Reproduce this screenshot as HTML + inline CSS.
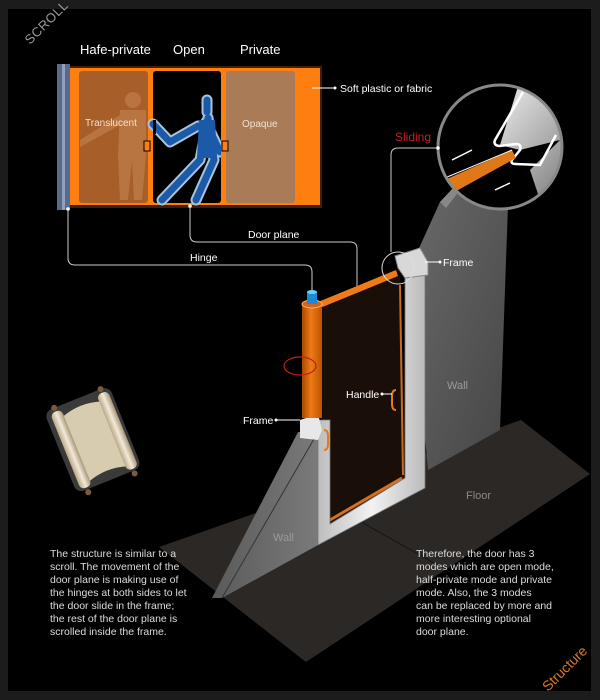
<!DOCTYPE html>
<html><head><meta charset="utf-8"><style>
html,body{margin:0;padding:0;background:#1c1c1c;}
svg{display:block}
text{font-family:"Liberation Sans",sans-serif;}
</style></head><body>
<svg width="600" height="700" viewBox="0 0 600 700" xmlns="http://www.w3.org/2000/svg">
<defs>
<linearGradient id="wallR" x1="0" y1="0" x2="1" y2="1"><stop offset="0" stop-color="#6a6a6a"/><stop offset="1" stop-color="#454545"/></linearGradient>
<linearGradient id="wallL" x1="0" y1="0" x2="1" y2="0"><stop offset="0" stop-color="#5a5a5a"/><stop offset="1" stop-color="#7a7a7a"/></linearGradient>
<linearGradient id="cyl" x1="0" y1="0" x2="1" y2="0"><stop offset="0" stop-color="#a84800"/><stop offset="0.45" stop-color="#f07a18"/><stop offset="1" stop-color="#b85400"/></linearGradient>
<linearGradient id="frm" x1="0" y1="0" x2="1" y2="0"><stop offset="0" stop-color="#bdbdbd"/><stop offset="0.5" stop-color="#f2f2f2"/><stop offset="1" stop-color="#bbb"/></linearGradient>
<linearGradient id="mag" x1="0" y1="0" x2="1" y2="1"><stop offset="0" stop-color="#eee"/><stop offset="1" stop-color="#666"/></linearGradient>
<linearGradient id="roll" x1="0" y1="0" x2="1" y2="0"><stop offset="0" stop-color="#b8a888"/><stop offset="0.5" stop-color="#f2ead8"/><stop offset="1" stop-color="#a89878"/></linearGradient>
<clipPath id="mc"><circle cx="500" cy="147" r="62"/></clipPath>
</defs>
<rect x="0" y="0" width="600" height="700" fill="#1c1c1c"/>
<rect x="8" y="9" width="583" height="682" fill="#000"/>

<text x="30" y="45" fill="#9a9a9a" font-size="13" transform="rotate(-45 30 45)" style="letter-spacing:0.5px">SCROLL</text>
<text x="548" y="692" fill="#e0762a" font-size="14" transform="rotate(-45 548 692)">Structure</text>

<!-- top panel -->
<text x="80" y="54" fill="#fff" font-size="13">Hafe-private</text>
<text x="173" y="54" fill="#fff" font-size="13">Open</text>
<text x="240" y="54" fill="#fff" font-size="13">Private</text>
<rect x="60" y="66" width="262" height="142" fill="#ff7a10" opacity="0.25"/>
<rect x="64" y="68" width="256" height="137" fill="#ff7e10"/>
<rect x="79" y="71" width="69" height="132" rx="3" fill="#a85e28"/>
<g opacity="0.35" fill="#d8a070"><circle cx="133" cy="100" r="8"/><path d="M120 110 h26 v45 l-4 45 h-8 l-2-40 l-4 40 h-8 l-2-45 z"/><path d="M80 140 l40-25 v10 l-40 22z"/></g>
<rect x="153" y="71" width="68" height="132" rx="3" fill="#000"/>
<g stroke-linecap="round" stroke-linejoin="round" fill="none">
<g stroke="#a8c4dc" stroke-width="11">
<path d="M207 100 V112"/><path d="M153 124 L170 142 L198 126"/><path d="M208 118 L200 160 L162 200"/><path d="M208 118 L214 160 L196 200"/><path d="M206 122 L220 152"/>
</g>
<g stroke="#1a5aa8" stroke-width="7">
<path d="M207 100 V112"/><path d="M153 124 L170 142 L198 126"/><path d="M208 118 L200 160 L162 200"/><path d="M208 118 L214 160 L196 200"/><path d="M206 122 L220 152"/>
</g>
</g>
<path d="M199 120 h16 l2 38 h-20z" fill="#1a5aa8"/>
<rect x="153" y="120" width="3" height="14" fill="#000"/>
<rect x="221" y="71" width="5" height="132" fill="#ff7e10"/>
<rect x="226" y="71" width="69" height="132" rx="3" fill="#a97b57"/>
<rect x="144" y="141" width="6" height="10" fill="#ff7e10" stroke="#000"/>
<rect x="222" y="141" width="6" height="10" fill="#ff7e10" stroke="#000"/>
<rect x="57" y="64" width="13" height="146" fill="#5a6a8a"/>
<rect x="62" y="64" width="3" height="146" fill="#8fa0c0"/>
<text x="85" y="126" fill="#f3e0d0" font-size="10">Translucent</text>
<text x="242" y="127" fill="#f3e0d0" font-size="10">Opaque</text>
<line x1="312" y1="88" x2="334" y2="88" stroke="#fff"/><circle cx="335" cy="88" r="1.5" fill="#fff"/>
<text x="340" y="92" fill="#fff" font-size="10.5">Soft plastic or fabric</text>

<!-- leader lines -->
<path d="M68 209 V258 q0 7 7 7 H305 q7 0 7 7 V294" fill="none" stroke="#ccc" stroke-width="1"/>
<circle cx="68" cy="209" r="1.8" fill="#fff"/>
<text x="190" y="261" fill="#fff" font-size="10.5">Hinge</text>
<path d="M190 206 V235 q0 7 7 7 H350 q7 0 7 7 V286" fill="none" stroke="#ccc" stroke-width="1"/>
<circle cx="190" cy="206" r="1.8" fill="#fff"/>
<text x="248" y="238" fill="#fff" font-size="10.5">Door plane</text>

<!-- floor -->
<polygon points="159,547 521,420 590,474 306,662" fill="#2b2826"/>
<line x1="322" y1="500" x2="500" y2="600" stroke="#151515" stroke-width="1"/>
<!-- right wall -->
<polygon points="410,268 440,202 455,186 508,205 500,430 428,470" fill="url(#wallR)"/>
<polygon points="440,202 455,186 460,190 446,208" fill="#888"/>
<!-- left wall -->
<polygon points="298,432 318,432 318,545 222,598 212,598" fill="url(#wallL)"/>
<line x1="318" y1="432" x2="222" y2="598" stroke="#333"/>
<!-- door interior -->
<polygon points="320,305 400,275 406,478 325,528" fill="#1a0f08"/>
<path d="M330 520 L402 478" stroke="#d57020" stroke-width="3"/>
<path d="M400 285 L403 475" stroke="#c86a20" stroke-width="2"/>
<!-- frame -->
<path d="M318 420 V545 L425 488 V268 H405 V478 L330 524 V420z" fill="url(#frm)" stroke="#777" stroke-width="0.8"/>
<polygon points="395,256 420,248 428,262 428,275 405,278 398,268" fill="#d8d8d8" stroke="#888"/>
<polygon points="300,420 318,414 322,430 318,440 300,438" fill="#e8e8e8"/>
<!-- door plane top edge -->
<polygon points="318,302 396,270 398,276 320,308" fill="#f07a18"/>
<!-- cylinder -->
<rect x="302" y="304" width="20" height="114" fill="url(#cyl)"/>
<ellipse cx="312" cy="304" rx="10" ry="4" fill="#d0661a" stroke="#ffb070"/>
<rect x="307" y="292" width="10" height="12" fill="#1a8ad8"/>
<ellipse cx="312" cy="292" rx="5" ry="2" fill="#6cd0ff"/>
<ellipse cx="300" cy="366" rx="16" ry="9" fill="none" stroke="#c0201a" stroke-width="1.2"/>
<!-- handles -->
<path d="M396 390 q-4 0 -4 6 v8 q0 6 4 6" fill="none" stroke="#e07a20" stroke-width="2"/>
<path d="M324 430 q4 0 4 6 v8 q0 6 -4 6" fill="none" stroke="#e07a20" stroke-width="2"/>
<!-- small circle -->
<circle cx="398" cy="268" r="16" fill="none" stroke="#ddd" stroke-width="1"/>
<path d="M438 148 H398 q-7 0 -7 7 V252" fill="none" stroke="#ccc" stroke-width="1"/>
<text x="395" y="141" fill="#c4202a" font-size="12">Sliding</text>
<!-- magnifier -->
<circle cx="500" cy="147" r="62" fill="#000"/>
<g clip-path="url(#mc)">
<polygon points="520,80 600,80 600,200 540,200 530,170 560,140 520,150 500,145" fill="url(#mag)"/>
<path d="M523 92 L495 140 q-2 5 4 6 L516 144 q6 0 4 6 L512 160 q-2 4 4 4 L540 165 L556 135" fill="none" stroke="#fff" stroke-width="2.5"/>
<polygon points="440,182 512,150 516,158 440,200" fill="#e0781a"/>
<line x1="440" y1="180" x2="512" y2="150" stroke="#fff" stroke-width="1"/>
<line x1="452" y1="160" x2="472" y2="150" stroke="#fff" stroke-width="1.5"/>
<line x1="495" y1="190" x2="510" y2="183" stroke="#fff" stroke-width="1.5"/>
</g>
<circle cx="500" cy="147" r="62" fill="none" stroke="#888" stroke-width="3"/>
<circle cx="438" cy="148" r="1.8" fill="#fff"/>

<!-- labels -->
<text x="443" y="266" fill="#fff" font-size="10.5">Frame</text>
<line x1="425" y1="262" x2="440" y2="262" stroke="#fff"/><circle cx="440" cy="262" r="1.5" fill="#fff"/>
<text x="243" y="424" fill="#fff" font-size="10.5">Frame</text>
<line x1="276" y1="420" x2="300" y2="420" stroke="#fff"/><circle cx="276" cy="420" r="1.5" fill="#fff"/>
<text x="346" y="398" fill="#fff" font-size="10.5">Handle</text>
<line x1="382" y1="394" x2="392" y2="394" stroke="#fff"/><circle cx="382" cy="394" r="1.5" fill="#fff"/>
<text x="447" y="389" fill="#9a9a9a" font-size="11">Wall</text>
<text x="466" y="499" fill="#8a8a8a" font-size="11">Floor</text>
<text x="273" y="541" fill="#999" font-size="11">Wall</text>

<!-- scroll icon -->
<g transform="rotate(-22 92 440)">
<rect x="58" y="396" width="70" height="88" rx="8" fill="#3a3a3a"/>
<path d="M72 408 q22 -8 44 0 v70 q-22 -8 -44 0z" fill="#d8ccb0"/>
<rect x="63" y="400" width="12" height="82" rx="5" fill="url(#roll)"/>
<rect x="113" y="400" width="12" height="82" rx="5" fill="url(#roll)"/>
<circle cx="69" cy="396" r="3" fill="#7a5a40"/><circle cx="119" cy="396" r="3" fill="#7a5a40"/>
<circle cx="69" cy="487" r="3" fill="#7a5a40"/><circle cx="119" cy="487" r="3" fill="#7a5a40"/>
</g>

<!-- text -->
<g fill="#ddd" font-size="10.5">
<text x="50" y="557">The structure is similar to a</text>
<text x="50" y="570">scroll. The movement of the</text>
<text x="50" y="583">door plane is making use of</text>
<text x="50" y="596">the hinges at both sides to let</text>
<text x="50" y="609">the door slide in the frame;</text>
<text x="50" y="622">the rest of the door plane is</text>
<text x="50" y="635">scrolled inside the frame.</text>
<text x="416" y="557">Therefore, the door has 3</text>
<text x="416" y="570">modes which are open mode,</text>
<text x="416" y="583">half-private mode and private</text>
<text x="416" y="596">mode. Also, the 3 modes</text>
<text x="416" y="609">can be replaced by more and</text>
<text x="416" y="622">more interesting optional</text>
<text x="416" y="635">door plane.</text>
</g>
</svg>
</body></html>
